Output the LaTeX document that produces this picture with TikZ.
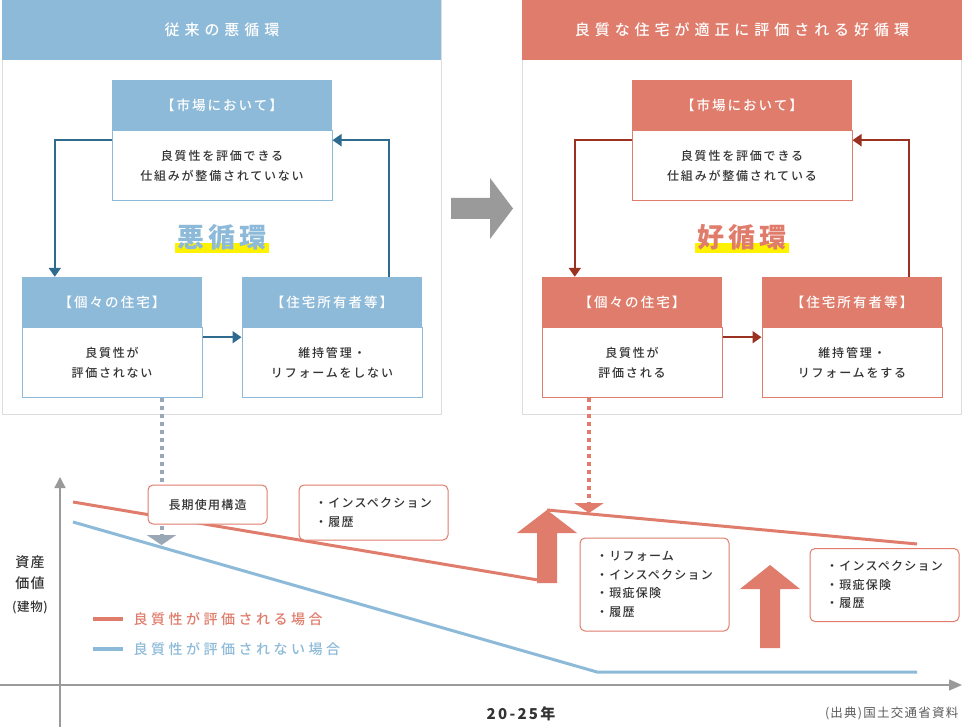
\documentclass[tikz,border=0pt]{standalone}
\usepackage{fontspec}
\setmainfont{Noto Sans CJK JP}
\newfontfamily\jpmed{Noto Sans CJK JP Medium}
\usetikzlibrary{positioning}
\usetikzlibrary{arrows.meta}
\definecolor{myblue}{HTML}{8DBAD8}
\definecolor{mysalmon}{HTML}{E07C6B}
\definecolor{mynavy}{HTML}{2F6B8F}
\definecolor{mybrick}{HTML}{9B3221}
\definecolor{mygray}{HTML}{9A9A9A}
\definecolor{mypanel}{HTML}{DDDDDD}
\definecolor{mytext}{HTML}{333333}
\definecolor{mydots}{HTML}{9AA8B5}
\definecolor{myyellow}{HTML}{FFF200}
\newcommand{\ls}[1]{\addfontfeatures{LetterSpace=#1}}

\begin{document}
\begin{tikzpicture}[
            x=1pt, y=-1pt,
            node distance=0pt,
            boxhead/.style={
                rectangle,
                fill=#1,
                text=white,
                inner sep=0pt,
                minimum width=180pt,
                minimum height=50pt,
                font=\jpmed\fontsize{13.5}{16}\selectfont\ls{15}
            },
            boxbody/.style={
                rectangle,
                draw=#1,
                line width=1pt,
                fill=white,
                text=mytext,
                align=center,
                inner sep=0pt,
                minimum width=180pt,
                minimum height=70pt,
                font=\jpmed\fontsize{12}{20}\selectfont\ls{15}
            },
            paneltitle/.style={text=white, font=\jpmed\fontsize{15}{18}\selectfont\ls{33}},
            cyclename/.style={text=#1, font=\fontsize{27}{30}\selectfont\bfseries\ls{15}},
            cyclearrow/.style={draw=#1, line width=2pt, -{Triangle[width=12pt,length=9pt]}},
            dotline/.style={draw=#1, line width=4pt, dash pattern=on 4pt off 4pt, -{Triangle[width=29pt,length=10pt]}},
            memo/.style={
                rectangle,
                rounded corners=5pt,
                draw=mysalmon,
                line width=1pt,
                fill=white,
                text=mytext,
                align=left,
                inner sep=0pt,
                minimum width=149pt,
                font=\jpmed\fontsize{12}{18.5}\selectfont\ls{10}
            },
            legendtext/.style={text=#1, anchor=west, font=\jpmed\fontsize{14}{16}\selectfont\ls{25}}
        ]

            \useasboundingbox (0,0) rectangle (962,727);
            \fill[white] (0,0) rectangle (962,727);

            % Panels
            \draw[mypanel, line width=1pt] (2,0) rectangle (441,415);
            \fill[myblue] (2,0) rectangle (441,60);
            \node[paneltitle] (lefttitle) at (222,30) {従来の悪循環};

            \draw[mypanel, line width=1pt] (522,0) rectangle (961.5,415);
            \fill[mysalmon] (522,0) rectangle (962,60);
            \node[paneltitle] (righttitle) at (742,30) {良質な住宅が適正に評価される好循環};

            % Left cycle
            \node[boxhead=myblue, minimum width=220pt] (lmkth) at (222,105) {【市場において】};
            \node[boxbody=myblue, minimum width=220pt, below=of lmkth] (lmktb) {良質性を評価できる\\仕組みが整備されていない};
            \node[boxhead=myblue] (lhouseh) at (112,302) {【個々の住宅】};
            \node[boxbody=myblue, below=of lhouseh] (lhouseb) {良質性が\\評価されない};
            \node[boxhead=myblue] (lownerh) at (332,302) {【住宅所有者等】};
            \node[boxbody=myblue, below=of lownerh] (lownerb) {維持管理・\\リフォームをしない};

            \fill[myyellow] (175,243) rectangle (269,253);
            \node[cyclename=myblue] (badcycle) at (222,237) {悪循環};

            \draw[cyclearrow=mynavy] ([yshift=-10pt]lmktb.north west) -| ([xshift=33pt]lhouseh.north west);
            \draw[cyclearrow=mynavy] ([yshift=-10pt]lhouseb.north east) -- ([yshift=-10pt]lownerb.north west);
            \draw[cyclearrow=mynavy] ([xshift=-33pt]lownerh.north east) |- ([yshift=-10pt]lmktb.north east);

            % Right cycle
            \node[boxhead=mysalmon, minimum width=220pt] (rmkth) at (742,105) {【市場において】};
            \node[boxbody=mysalmon, minimum width=220pt, below=of rmkth] (rmktb) {良質性を評価できる\\仕組みが整備されている};
            \node[boxhead=mysalmon] (rhouseh) at (632,302) {【個々の住宅】};
            \node[boxbody=mysalmon, below=of rhouseh] (rhouseb) {良質性が\\評価される};
            \node[boxhead=mysalmon] (rownerh) at (852,302) {【住宅所有者等】};
            \node[boxbody=mysalmon, below=of rownerh] (rownerb) {維持管理・\\リフォームをする};

            \fill[myyellow] (695,243) rectangle (789,253);
            \node[cyclename=mysalmon] (goodcycle) at (742,237) {好循環};

            \draw[cyclearrow=mybrick] ([yshift=-10pt]rmktb.north west) -| ([xshift=33pt]rhouseh.north west);
            \draw[cyclearrow=mybrick] ([yshift=-10pt]rhouseb.north east) -- ([yshift=-10pt]rownerb.north west);
            \draw[cyclearrow=mybrick] ([xshift=-33pt]rownerh.north east) |- ([yshift=-10pt]rmktb.north east);

            % Transition arrow
            \fill[mygray] (451,198) -- (490,198) -- (490,178) -- (513,208.5) -- (490,239) -- (490,219) -- (451,219) -- cycle;

            % Axes
            \draw[mygray, line width=1.5pt, -{Triangle[width=11pt,length=11pt]}] (60,727) -- (60,477);
            \draw[mygray, line width=1.5pt, -{Triangle[width=11pt,length=13pt]}] (0,685) -- (962,685);

            % Value curves
            \draw[myblue, line width=3pt] (73,522) -- (597,672) -- (917,672);
            \draw[mysalmon, line width=3pt] (73,502) -- (538,580);
            \draw[mysalmon, line width=3pt, line join=round] (547,510) -- (917,544);

            % Up arrows
            \fill[mysalmon] (537,583) -- (537,533) -- (517,533) -- (547,510) -- (577,533) -- (557,533) -- (557,583) -- cycle;
            \fill[mysalmon] (760,648) -- (760,589) -- (740,589) -- (770,565) -- (800,589) -- (780,589) -- (780,648) -- cycle;

            % Dotted connectors
            \coordinate (lhousetip) at (161.5,545);
            \coordinate (rhousetip) at (589,513);
            \draw[dotline=mydots] ([xshift=49.5pt]lhouseb.south) -- (lhousetip);
            \draw[dotline=mysalmon] ([xshift=-43pt]rhouseb.south) -- (rhousetip);

            % Memos
            \node[memo, minimum width=119pt, minimum height=39pt, align=center] (longlife) at (207.5,504.5) {長期使用構造};
            \node[memo, minimum height=55pt] (memoa) at (373.5,512.5) {・インスペクション\\・履歴};
            \node[memo, minimum height=93pt] (memob) at (654.5,584.5) {・リフォーム\\・インスペクション\\・瑕疵保険\\・履歴};
            \node[memo, minimum height=73pt] (memoc) at (884.5,585) {・インスペクション\\・瑕疵保険\\・履歴};

            % Legend
            \draw[mysalmon, line width=4pt] (93,619) -- (123,619);
            \node[legendtext=mysalmon] (legred) at (130,619) {良質性が評価される場合};
            \draw[myblue, line width=4pt] (93,649) -- (123,649);
            \node[legendtext=myblue] (legblue) at (130,649) {良質性が評価されない場合};

            % Axis labels
            \node[text=mytext, align=center, font=\jpmed\fontsize{14}{21}\selectfont\ls{10}] (ylabel) at (30,573) {資産\\価値};
            \node[text=mytext, font=\jpmed\fontsize{12.5}{14}\selectfont\ls{5}] (ysub) at (30,607) {(建物)};
            \node[text=mytext, font=\fontsize{15}{18}\selectfont\bfseries\ls{15}] (xlabel) at (521,714) {20-25年};
            \node[text=mytext!80, anchor=east, font=\fontsize{12.5}{15}\selectfont\ls{10}] (source) at (962,713) {(出典)国土交通省資料};
        \end{tikzpicture}
\end{document}
